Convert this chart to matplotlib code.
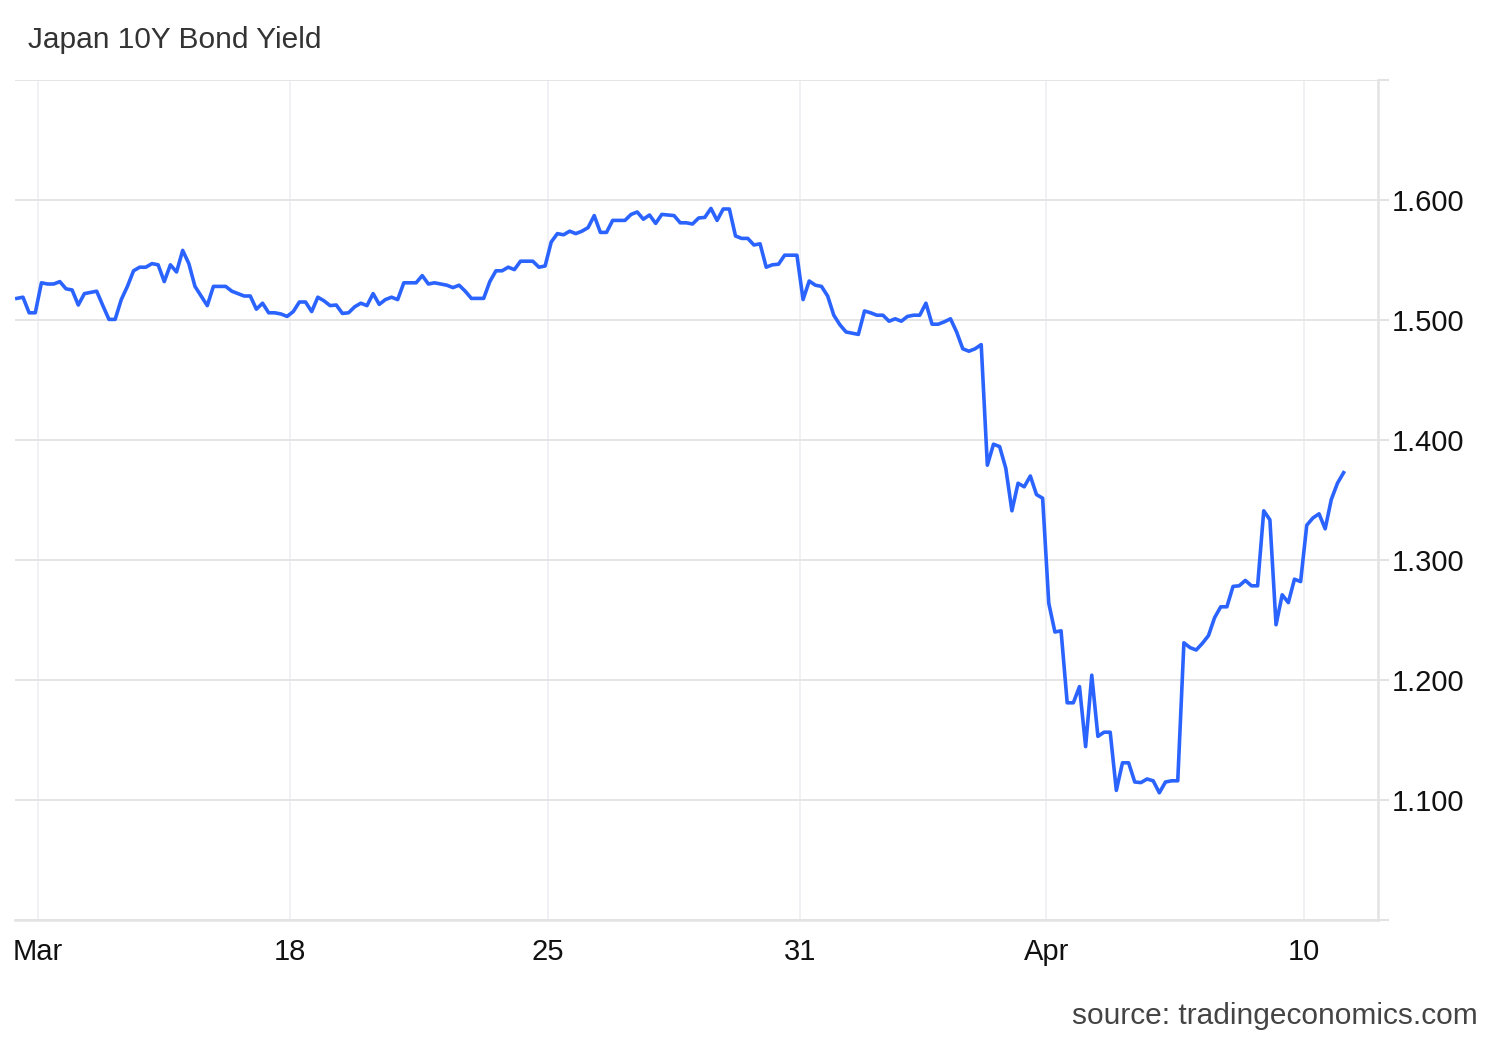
import numpy as np
import matplotlib
matplotlib.use("Agg")
import matplotlib.pyplot as plt

# Japan 10Y bond yield, intraday samples (roughly 8 per trading day)
yields = [
    1.518, 1.519, 1.506, 1.506, 1.531, 1.530, 1.530, 1.532, 1.526, 1.525,
    1.5125, 1.522, 1.523, 1.524, 1.512, 1.5005, 1.5005, 1.517, 1.528, 1.541,
    1.544, 1.544, 1.547, 1.546, 1.532, 1.546, 1.540, 1.558, 1.547, 1.528,
    1.520, 1.512, 1.528, 1.528, 1.528, 1.524, 1.522, 1.520, 1.520,
    1.509, 1.514, 1.506, 1.506, 1.505, 1.503, 1.507, 1.515, 1.515, 1.507,
    1.519, 1.516, 1.512, 1.5125, 1.5055, 1.506, 1.511, 1.514, 1.512, 1.522,
    1.513, 1.517, 1.519, 1.517, 1.531, 1.531, 1.531, 1.537, 1.530, 1.531,
    1.530, 1.529, 1.527, 1.529, 1.524, 1.518, 1.518,
    1.518, 1.532, 1.541, 1.541, 1.544, 1.542, 1.549, 1.549, 1.549, 1.544,
    1.545, 1.565, 1.572, 1.571, 1.574, 1.572, 1.574, 1.577, 1.587, 1.573,
    1.573, 1.583, 1.583, 1.583, 1.588, 1.590, 1.584, 1.5875, 1.5805, 1.588,
    1.5875, 1.587, 1.581, 1.581, 1.580, 1.585, 1.5855, 1.593,
    1.583, 1.5925, 1.5925, 1.570, 1.568, 1.568, 1.5625, 1.5635, 1.544, 1.546,
    1.5465, 1.554, 1.554, 1.554, 1.517, 1.5325, 1.529, 1.528, 1.520, 1.504,
    1.496, 1.490, 1.489, 1.488, 1.5075, 1.506, 1.504, 1.504, 1.499, 1.501,
    1.499, 1.503, 1.504, 1.504, 1.514, 1.4965, 1.4965, 1.4985, 1.501, 1.490,
    1.476, 1.474, 1.476, 1.4795,
    1.379, 1.3965, 1.3945, 1.3765, 1.341, 1.364, 1.361, 1.370, 1.3545, 1.3515,
    1.264, 1.240, 1.241, 1.181, 1.181, 1.1945, 1.1445, 1.204, 1.153, 1.1565,
    1.1565, 1.108, 1.131, 1.131, 1.115, 1.1145, 1.1175, 1.116, 1.106, 1.115,
    1.116, 1.116,
    1.231, 1.227, 1.225, 1.2305, 1.237, 1.252, 1.261, 1.261, 1.278, 1.2785,
    1.283, 1.2785, 1.2785, 1.341, 1.3335, 1.246, 1.271, 1.2645, 1.284, 1.282,
    1.329, 1.335, 1.3385, 1.326, 1.3505, 1.364, 1.3728,
]

# x tick labels and their sample positions
x_tick_labels = ["Mar", "18", "25", "31", "Apr", "10"]
x_tick_pos = [3.47, 44.5, 86.5, 127.5, 167.6, 209.6]

y_ticks = [1.0, 1.1, 1.2, 1.3, 1.4, 1.5, 1.6, 1.7]
y_tick_labels = ["", "1.100", "1.200", "1.300", "1.400", "1.500", "1.600", ""]

plt.rcParams['font.family'] = ['Liberation Sans', 'DejaVu Sans']

fig = plt.figure(figsize=(15, 10.4), dpi=100)
ax = fig.add_axes([15 / 1500, 120 / 1040, 1363 / 1500, 840 / 1040])

x = np.arange(len(yields))
ax.plot(x, yields, color='#2b63ff', lw=2.6, solid_joinstyle='round', zorder=3)

ax.set_xlim(-0.3, 221.6)
ax.set_ylim(1.0, 1.7)

# y axis on the right
ax.yaxis.tick_right()
ax.set_yticks(y_ticks)
ax.set_yticklabels(y_tick_labels, fontsize=21, color='#111111')
ax.tick_params(axis='y', length=8, width=1.5, color='#e3e3e3', pad=2)

ax.set_xticks(x_tick_pos)
ax.set_xticklabels(x_tick_labels, fontsize=21, color='#111111')
ax.tick_params(axis='x', length=0, pad=13)

ax.grid(axis='y', color='#e3e3e3', lw=1.3, zorder=0)
ax.grid(axis='x', color='#eef0f4', lw=1.3, zorder=0)

for side in ['top', 'left']:
    ax.spines[side].set_visible(False)
ax.spines['right'].set_color('#e3e3e3')
ax.spines['right'].set_linewidth(1.8)
ax.spines['bottom'].set_color('#e3e3e3')
ax.spines['bottom'].set_linewidth(1.8)

fig.text(28 / 1500, 1 - 40 / 1040, "Japan 10Y Bond Yield", fontsize=21.5,
         color='#333333', ha='left', va='center')
fig.text(1478 / 1500, 1 - 1016 / 1040, "source: tradingeconomics.com",
         fontsize=21.5, color='#444444', ha='right', va='center')

fig.savefig("out.png", dpi=100, facecolor='white')
